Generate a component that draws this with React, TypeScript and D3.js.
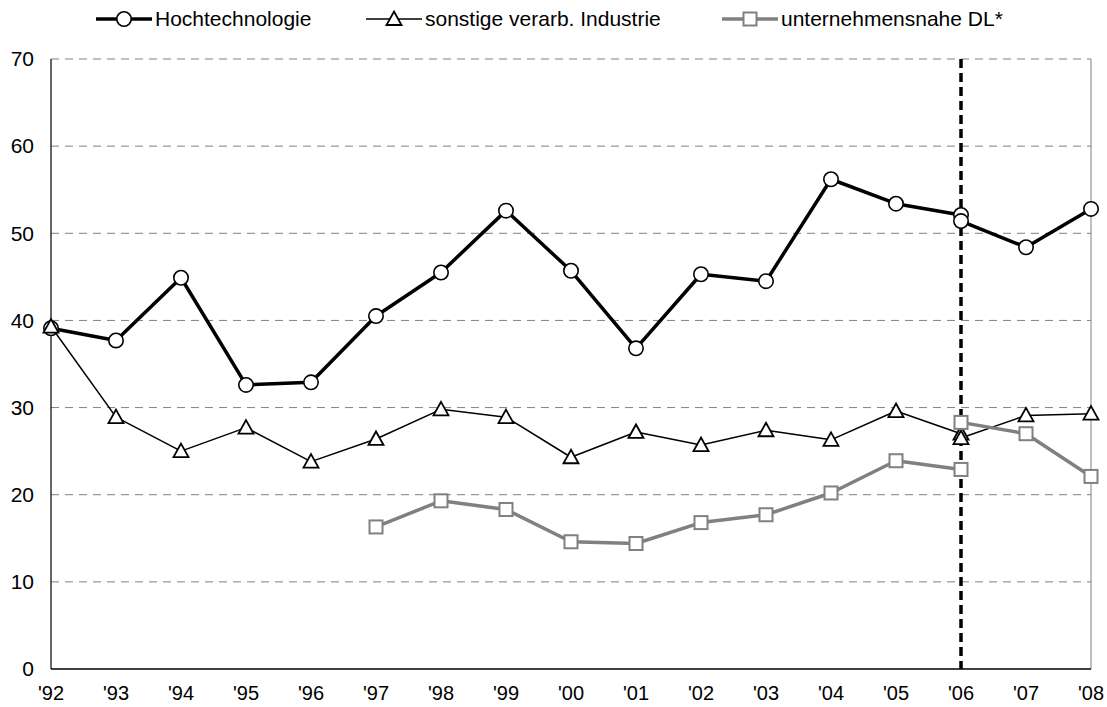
import * as d3 from "d3";

const years = ["'92", "'93", "'94", "'95", "'96", "'97", "'98", "'99", "'00", "'01", "'02", "'03", "'04", "'05", "'06", "'07", "'08"];

// old definition: '92–'06, new definition: '06–'08
const hochOld = [39.1, 37.7, 44.9, 32.6, 32.9, 40.5, 45.5, 52.6, 45.7, 36.8, 45.3, 44.5, 56.2, 53.4, 52.1];
const hochNew = [51.4, 48.4, 52.8];
const sonstOld = [39.3, 28.9, 25.0, 27.7, 23.8, 26.4, 29.8, 28.9, 24.3, 27.2, 25.7, 27.4, 26.3, 29.6, 27.0];
const sonstNew = [26.5, 29.1, 29.3];
const dlOld = [null, null, null, null, null, 16.3, 19.3, 18.3, 14.6, 14.4, 16.8, 17.7, 20.2, 23.9, 22.9];
const dlNew = [28.3, 27.0, 22.1];

const yTicks = [0, 10, 20, 30, 40, 50, 60, 70];
const breakYear = "'06";

const W = 1107;
const H = 707;
const M = { top: 59, right: 16, bottom: 38, left: 51 };
const FONT = "'Liberation Sans', Arial, sans-serif";

type Pt = { i: number; v: number };

const toPts = (vals: (number | null)[], start: number): Pt[] =>
  vals.map((v, k) => ({ i: start + k, v: v as number })).filter((d) => d.v != null);

export default function App() {
  const x = d3.scaleLinear().domain([0, years.length - 1]).range([M.left, W - M.right]);
  const y = d3.scaleLinear().domain([0, 70]).range([H - M.bottom, M.top]);
  const line = d3.line<Pt>().x((d) => x(d.i)).y((d) => y(d.v));
  const bi = years.indexOf(breakYear);

  const series = [
    { name: "Hochtechnologie", parts: [toPts(hochOld, 0), toPts(hochNew, bi)], color: "#000", width: 3.5, marker: "circle" },
    { name: "sonstige verarb. Industrie", parts: [toPts(sonstOld, 0), toPts(sonstNew, bi)], color: "#000", width: 1.5, marker: "triangle" },
    { name: "unternehmensnahe DL*", parts: [toPts(dlOld, 0), toPts(dlNew, bi)], color: "#808080", width: 3.5, marker: "square" },
  ];

  const marker = (type: string, cx: number, cy: number, color: string, key: string) => {
    if (type === "circle")
      return <circle key={key} cx={cx} cy={cy} r={7.2} fill="#fff" stroke={color} strokeWidth={1.6} />;
    if (type === "triangle") {
      const p = d3.path();
      p.moveTo(cx, cy - 7.5);
      p.lineTo(cx + 7.5, cy + 6);
      p.lineTo(cx - 7.5, cy + 6);
      p.closePath();
      return <path key={key} d={p.toString()} fill="#fff" stroke={color} strokeWidth={1.8} />;
    }
    return <rect key={key} x={cx - 6.5} y={cy - 6.5} width={13} height={13} fill="#fff" stroke={color} strokeWidth={2} />;
  };

  const legendX = [96, 366, 722];

  return (
    <svg width={W} height={H} style={{ display: "block", position: "absolute", left: 0, top: 0 }} fontFamily={FONT}>
      <rect width={W} height={H} fill="#fff" />
      {/* gridlines */}
      {yTicks.slice(1).map((t) => (
        <line key={t} x1={M.left} x2={W - M.right} y1={y(t)} y2={y(t)} stroke="#808080" strokeWidth={1} strokeDasharray="8,6" />
      ))}
      <line x1={W - M.right} x2={W - M.right} y1={y(70)} y2={y(0)} stroke="#808080" strokeWidth={1} />
      <line x1={M.left} x2={M.left} y1={y(70)} y2={y(0)} stroke="#000" strokeWidth={1.2} />
      <line x1={M.left} x2={W - M.right} y1={y(0)} y2={y(0)} stroke="#000" strokeWidth={1.5} />
      {yTicks.map((t) => (
        <text key={t} x={34} y={y(t)} dy="0.35em" textAnchor="end" fontSize={21} fill="#000">{t}</text>
      ))}
      {years.map((l, i) => (
        <text key={l} x={x(i)} y={700} textAnchor="middle" fontSize={20} fill="#000">{l}</text>
      ))}
      {/* break line */}
      <line x1={x(bi)} x2={x(bi)} y1={y(70)} y2={y(0)} stroke="#000" strokeWidth={3.5} strokeDasharray="9,5" />
      {series.map((s) => (
        <g key={s.name}>
          {s.parts.map((pts, k) => (
            <path key={k} d={line(pts) || ""} fill="none" stroke={s.color} strokeWidth={s.width} strokeLinejoin="round" />
          ))}
          {s.parts.flatMap((pts, k) => pts.map((d) => marker(s.marker, x(d.i), y(d.v), s.color, `${k}-${d.i}`)))}
        </g>
      ))}
      {/* legend */}
      {series.map((s, k) => (
        <g key={s.name}>
          <line x1={legendX[k]} x2={legendX[k] + 56} y1={19} y2={19} stroke={s.color} strokeWidth={s.width} />
          {marker(s.marker, legendX[k] + 28, 19, s.color, "lg")}
          <text x={legendX[k] + 59} y={19} dy="0.35em" fontSize={21} fill="#000">{s.name}</text>
        </g>
      ))}
    </svg>
  );
}
